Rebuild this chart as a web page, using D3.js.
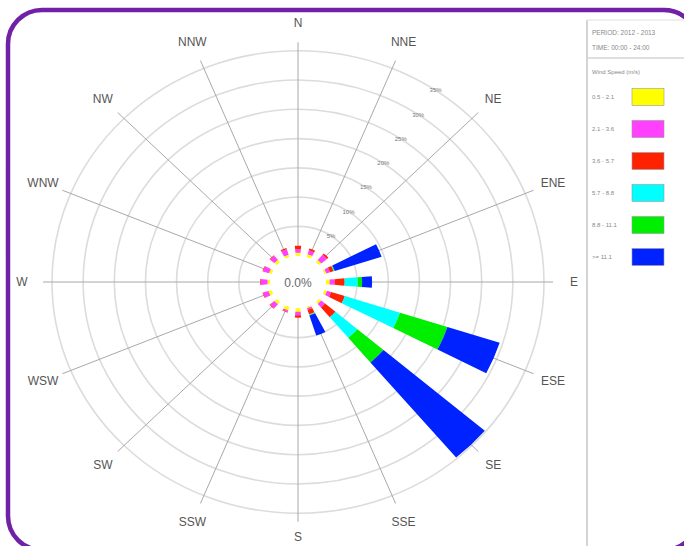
<!DOCTYPE html>
<html>
<head>
<meta charset="utf-8">
<script src="https://cdn.jsdelivr.net/npm/d3@7"></script>
<style>
  html, body { margin: 0; padding: 0; background: #fff; }
  svg { display: block; font-family: "Liberation Sans", Arial, sans-serif; }
</style>
</head>
<body>
<svg id="chart" width="684" height="546"></svg>
<script>
// Wind directions, clockwise from north
const directions = ["N","NNE","NE","ENE","E","ESE","SE","SSE","S","SSW","SW","WSW","W","WNW","NW","NNW"];

// Wind speed classes (m/s) and their colours
const speedClasses = ["0.5 - 2.1", "2.1 - 3.6", "3.6 - 5.7", "5.7 - 8.8", "8.8 - 11.1", ">= 11.1"];
const speedColors  = ["#ffff00", "#ff40ff", "#ff2200", "#00ffff", "#00ee00", "#0022ff"];

// Frequency (%) per direction for each speed class
const class1 = [0.5, 0.5, 0.4, 0.3, 0.6, 0.4, 0.4, 0.2, 0.6, 0.6, 0.5, 0.5, 0.4, 0.4, 0.5, 0.4];
const class2 = [0.6, 0.7, 1.2, 0.6, 0.8, 0.7, 0.8, 0.3, 0.6, 0.3, 0.9, 0.9, 1.1, 1.0, 0.9, 1.0];
const class3 = [0.6, 0.3, 0.3, 0.6, 1.6, 2.3, 2.2, 0.8, 0.4, 0.1, 0.1, 0.1, 0.1, 0.1, 0.1, 0.2];
const class4 = [0.0, 0.0, 0.0, 0.1, 2.1, 9.3, 4.6, 0.1, 0.0, 0.0, 0.0, 0.0, 0.0, 0.0, 0.0, 0.0];
const class5 = [0.0, 0.0, 0.0, 0.1, 0.7, 8.0, 5.5, 0.1, 0.0, 0.0, 0.0, 0.0, 0.0, 0.0, 0.0, 0.0];
const class6 = [0.0, 0.0, 0.0, 7.9, 1.6, 8.8, 21.3, 3.6, 0.0, 0.0, 0.0, 0.0, 0.0, 0.0, 0.0, 0.0];
const classValues = [class1, class2, class3, class4, class5, class6];

// Ring ticks (%)
const ringTicks = [5, 10, 15, 20, 25, 30, 35];
const ringLabels = ["5%", "10%", "15%", "20%", "25%", "30%", "35%"];
const calmsLabel = "0.0%";
const periodLines = ["PERIOD: 2012 - 2013", "TIME: 00:00 - 24:00"];
const legendTitle = "Wind Speed (m/s)";

const svg = d3.select("#chart");

// Rounded purple frame
svg.append("rect")
  .attr("x", 8).attr("y", 10).attr("width", 690).attr("height", 540)
  .attr("rx", 34).attr("ry", 34)
  .attr("fill", "#fff").attr("stroke", "#7121a6").attr("stroke-width", 4.5);

const cx = 298, cy = 282, squash = 0.94;
const r = d3.scaleLinear().domain([0, 35]).range([28, 246]);
const step = 2 * Math.PI / directions.length;
const halfWidth = (9.5 / 2) * Math.PI / 180;

const plot = svg.append("g")
  .attr("transform", `translate(${cx},${cy}) scale(1,${squash})`);

// Rings
plot.selectAll("circle.ring").data(ringTicks).join("circle")
  .attr("class", "ring")
  .attr("r", d => r(d))
  .attr("fill", "none").attr("stroke", "#dcdcdc").attr("stroke-width", 1.6)
  .attr("vector-effect", "non-scaling-stroke");

// Radial direction lines
const lineLen = 255;
plot.selectAll("line.spoke").data(directions).join("line")
  .attr("class", "spoke")
  .attr("x1", 0).attr("y1", 0)
  .attr("x2", (d, i) => lineLen * Math.sin(i * step))
  .attr("y2", (d, i) => -lineLen * Math.cos(i * step))
  .attr("stroke", "#a8a8a8").attr("stroke-width", 1)
  .attr("vector-effect", "non-scaling-stroke");

// Calm circle
plot.append("circle").attr("r", r(0)).attr("fill", "#fff").attr("stroke", "none");

// Stacked wind-speed wedges
const stacks = directions.map((dir, i) => {
  let acc = 0;
  return classValues.map((vals, k) => {
    const seg = { dir, i, k, v0: acc, v1: acc + vals[i] };
    acc += vals[i];
    return seg;
  }).filter(s => s.v1 > s.v0);
});
const arc = d3.arc()
  .innerRadius(d => r(d.v0))
  .outerRadius(d => r(d.v1))
  .startAngle(d => d.i * step - halfWidth)
  .endAngle(d => d.i * step + halfWidth);
plot.selectAll("path.seg").data(stacks.flat()).join("path")
  .attr("class", "seg")
  .attr("d", arc)
  .attr("fill", d => speedColors[d.k]);

// Direction labels
const labelR = 276;
svg.selectAll("text.dir").data(directions).join("text")
  .attr("class", "dir")
  .attr("x", (d, i) => cx + labelR * Math.sin(i * step))
  .attr("y", (d, i) => Math.min(537, cy - labelR * squash * Math.cos(i * step)))
  .attr("text-anchor", "middle").attr("dominant-baseline", "central")
  .attr("font-size", 12).attr("fill", "#555")
  .text(d => d);

// Ring value labels
const tickAngle = 34 * Math.PI / 180;
svg.selectAll("text.ringlab").data(ringTicks).join("text")
  .attr("class", "ringlab")
  .attr("x", d => cx + r(d) * Math.sin(tickAngle))
  .attr("y", d => cy - r(d) * squash * Math.cos(tickAngle))
  .attr("text-anchor", "middle").attr("dominant-baseline", "central")
  .attr("font-size", 6).attr("fill", "#777")
  .text((d, i) => ringLabels[i]);

// Calms text
svg.append("text")
  .attr("x", cx).attr("y", cy + 1)
  .attr("text-anchor", "middle").attr("dominant-baseline", "central")
  .attr("font-size", 12).attr("fill", "#666")
  .text(calmsLabel);

// Legend panel
const panelX = 587;
svg.append("line").attr("x1", panelX).attr("x2", panelX).attr("y1", 20).attr("y2", 546)
  .attr("stroke", "#d4d4d4").attr("stroke-width", 2);
svg.append("line").attr("x1", panelX).attr("x2", 684).attr("y1", 20).attr("y2", 20)
  .attr("stroke", "#e0e0e0").attr("stroke-width", 1);
svg.append("line").attr("x1", panelX).attr("x2", 684).attr("y1", 58).attr("y2", 58)
  .attr("stroke", "#d4d4d4").attr("stroke-width", 1.5);
svg.selectAll("text.period").data(periodLines).join("text")
  .attr("class", "period")
  .attr("x", 592).attr("y", (d, i) => 32 + i * 15)
  .attr("dominant-baseline", "central")
  .attr("font-size", 6.5).attr("fill", "#888")
  .text(d => d);
svg.append("text")
  .attr("x", 592).attr("y", 72).attr("dominant-baseline", "central")
  .attr("font-size", 6).attr("fill", "#888")
  .text(legendTitle);

const legendY = d3.scalePoint().domain(speedClasses).range([97, 257]);
const legend = svg.selectAll("g.leg").data(speedClasses).join("g")
  .attr("class", "leg")
  .attr("transform", d => `translate(0,${legendY(d)})`);
legend.append("rect")
  .attr("x", 632).attr("y", -8.5).attr("width", 32).attr("height", 17)
  .attr("fill", (d, i) => speedColors[i])
  .attr("stroke", "#999").attr("stroke-width", 0.6);
legend.append("text")
  .attr("x", 592).attr("y", 0).attr("dominant-baseline", "central")
  .attr("font-size", 6).attr("fill", "#888")
  .text(d => d);
</script>
</body>
</html>
